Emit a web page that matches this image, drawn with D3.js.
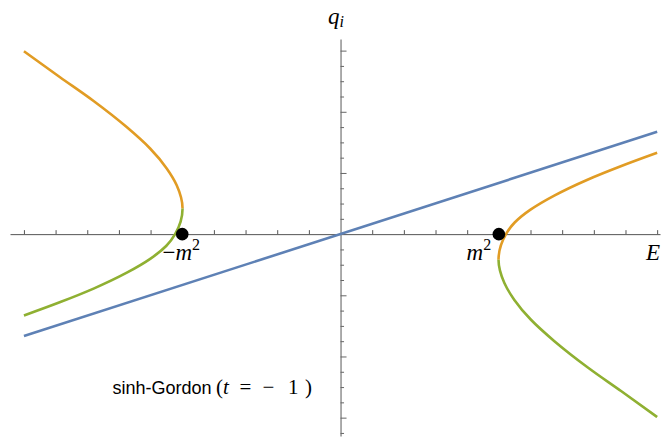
<!DOCTYPE html>
<html>
<head>
<meta charset="utf-8">
<script src="https://cdn.jsdelivr.net/npm/d3@7"></script>
<style>
  html, body { margin: 0; padding: 0; background: #fff; }
  svg { display: block; }
</style>
</head>
<body>
<svg id="chart" width="661" height="440"></svg>
<script>
// ---- data (E in units of m^2, q values) ----
const blueE = [-2.0, 2.0];
const blueQ = [-1.667, 1.672];

const orangeLeftE = [-2.0, -1.772, -1.562, -1.351, -1.203, -1.098, -1.035, -0.998];
const orangeLeftQ = [2.99, 2.565, 2.18, 1.75, 1.40, 1.075, 0.80, 0.42];

const greenLeftE = [-0.998, -1.045, -1.10, -1.20, -1.35, -1.56, -1.77, -2.0];
const greenLeftQ = [0.42, 0.0, -0.19, -0.40, -0.63, -0.89, -1.11, -1.33];

const orangeRightE = [0.998, 1.045, 1.10, 1.20, 1.35, 1.56, 1.77, 2.0];
const orangeRightQ = [-0.42, 0.0, 0.19, 0.40, 0.63, 0.89, 1.11, 1.33];

const greenRightE = [0.998, 1.035, 1.098, 1.203, 1.351, 1.562, 1.772, 2.0];
const greenRightQ = [-0.42, -0.80, -1.075, -1.40, -1.75, -2.18, -2.565, -2.99];

const pointsE = [-1, 1];
const pointsQ = [0, 0];

const xTicks = [-2, -1.8, -1.6, -1.4, -1.2, -1, -0.8, -0.6, -0.4, -0.2, 0.2, 0.4, 0.6, 0.8, 1, 1.2, 1.4, 1.6, 1.8, 2];
const yMajor = [-3, -2, -1, 1, 2, 3];
const yMinor = [-3.25, -2.75, -2.5, -2.25, -1.75, -1.5, -1.25, -0.75, -0.5, -0.25,
                0.25, 0.5, 0.75, 1.25, 1.5, 1.75, 2.25, 2.5, 2.75];

const colors = { blue: "#5E81B5", orange: "#E19C24", green: "#8FB032" };

// ---- scales ----
const svg = d3.select("#chart");
const x = d3.scaleLinear().domain([-2.088, 2.018]).range([10, 660]);
const y = d3.scaleLinear().domain([-3.3, 3.19]).range([436, 39]);

// ---- axes ----
const xAxis = d3.axisTop(x).tickValues(xTicks).tickFormat("").tickSize(4).tickSizeOuter(0);
const gx = svg.append("g").attr("transform", `translate(0,${y(0)})`).call(xAxis);
gx.selectAll("path, line").attr("stroke", "#555").attr("stroke-width", 1);

const yAxisMinor = d3.axisRight(y).tickValues(yMinor).tickFormat("").tickSize(3.5).tickSizeOuter(0);
const yAxisMajor = d3.axisRight(y).tickValues(yMajor).tickFormat("").tickSize(6).tickSizeOuter(0);
const gy1 = svg.append("g").attr("transform", `translate(${x(0)},0)`).call(yAxisMinor);
const gy2 = svg.append("g").attr("transform", `translate(${x(0)},0)`).call(yAxisMajor);
gy2.select(".domain").remove();
gy1.selectAll("path").attr("stroke", "#888").attr("stroke-width", 1.4);
gy1.selectAll("line").attr("stroke", "#666").attr("stroke-width", 1);
gy2.selectAll("line").attr("stroke", "#666").attr("stroke-width", 1);

// ---- curves ----
const defs = svg.append("defs");
function pts(E, Q) { return E.map((e, i) => [x(e), y(Q[i])]); }
const straight = d3.line();
const byY = d3.line().curve(d3.curveMonotoneY);

svg.append("path")
  .attr("d", straight(pts(blueE, blueQ)))
  .attr("fill", "none").attr("stroke", colors.blue).attr("stroke-width", 2.6);

// each branch is a single-valued E(q): build it from both pieces (sharing the fold point),
// then colour the part above the fold orange and the part below green by clipping
function branch(id, oE, oQ, gE, gQ) {
  const all = pts(oE, oQ).concat(pts(gE, gQ).slice(1)).sort((a, b) => a[1] - b[1]);
  const foldY = y(gQ[0]);
  defs.append("clipPath").attr("id", id + "-up")
    .append("rect").attr("x", 0).attr("y", 0).attr("width", 661).attr("height", foldY);
  defs.append("clipPath").attr("id", id + "-lo")
    .append("rect").attr("x", 0).attr("y", foldY).attr("width", 661).attr("height", 440 - foldY);
  [[id + "-up", colors.orange], [id + "-lo", colors.green]].forEach(([cid, col]) => {
    svg.append("path")
      .attr("d", byY(all))
      .attr("clip-path", `url(#${cid})`)
      .attr("fill", "none").attr("stroke", col).attr("stroke-width", 2.6);
  });
}
branch("left", orangeLeftE, orangeLeftQ, greenLeftE, greenLeftQ);
branch("right", orangeRightE, orangeRightQ, greenRightE, greenRightQ);

// ---- points ----
svg.selectAll("circle.pt").data(pointsE).join("circle")
  .attr("class", "pt")
  .attr("cx", (d) => x(d))
  .attr("cy", (d, i) => y(pointsQ[i]))
  .attr("r", 6.3)
  .attr("fill", "#000");

// ---- labels ----
const serif = "'Liberation Serif', 'DejaVu Serif', serif";
const tL = svg.append("text").attr("x", 162.5).attr("y", 260)
  .attr("font-family", serif).attr("font-size", 23);
tL.append("tspan").text("\u2212");
tL.append("tspan").attr("font-style", "italic").text("m");
tL.append("tspan").attr("font-size", 16).attr("dy", -10).text("2");

const tR = svg.append("text").attr("x", 466.5).attr("y", 260)
  .attr("font-family", serif).attr("font-size", 23);
tR.append("tspan").attr("font-style", "italic").text("m");
tR.append("tspan").attr("font-size", 16).attr("dy", -10).text("2");

svg.append("text").attr("x", 660).attr("y", 260).attr("text-anchor", "end")
  .attr("font-family", serif).attr("font-size", 23).attr("font-style", "italic").text("E");

const tq = svg.append("text").attr("x", 328).attr("y", 24)
  .attr("font-family", serif).attr("font-size", 23).attr("font-style", "italic");
tq.append("tspan").text("q");
tq.append("tspan").attr("font-size", 16).attr("dy", 3).text("i");

// caption
const cap = svg.append("text").attr("y", 394.3).attr("font-size", 18);
cap.append("tspan").attr("x", 112.5).attr("font-family", "'Liberation Sans', Arial, sans-serif").text("sinh-Gordon");
const m = { "font-size": 21, "font-family": serif };
[["(", 216, false], ["t", 223, true], ["=", 239.5, false], ["\u2212", 262.5, false], ["1", 288, false], [")", 305, false]]
  .forEach(([s, px, it]) => {
    const t = cap.append("tspan").attr("x", px).attr("font-size", m["font-size"]).attr("font-family", m["font-family"]).text(s);
    if (it) t.attr("font-style", "italic");
  });
</script>
</body>
</html>
